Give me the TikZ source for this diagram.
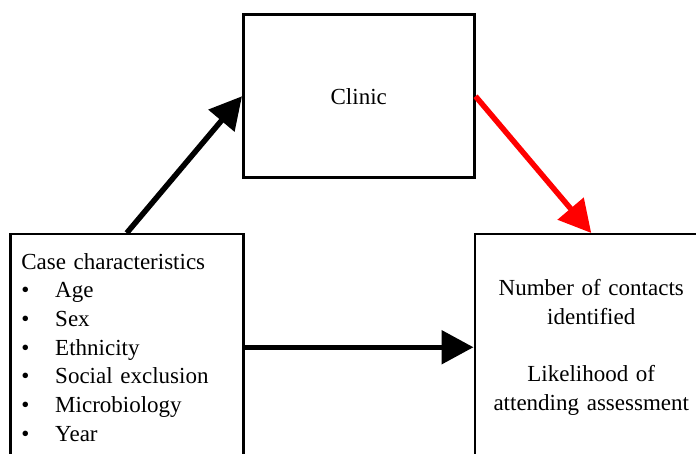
\documentclass[tikz,border=0pt]{standalone}
\usepackage{fontspec}
\setmainfont{Liberation Serif}
\usetikzlibrary{positioning,arrows.meta}

\newcommand{\itembullet}[1]{\makebox[34pt][l]{\textbullet}#1}

\begin{document}
\begin{tikzpicture}[
  x=1pt, y=1pt,
  node distance=10pt,
  box/.style={draw, line width=2.5pt, inner sep=0pt, minimum width=231pt, minimum height=163pt, font=\fontsize{23}{28.7}\selectfont},
  bigbox/.style={box, minimum width=233pt, minimum height=226pt, text width=211pt},
  arr/.style={-{Triangle[length=32pt, width=33pt]}, line width=5.5pt}
]
\useasboundingbox (0,0) rectangle (696,-454);
\clip (0,0) rectangle (696,-454);
\node[bigbox, align=left, anchor=north west] (cases) at (9,-233) {Case characteristics\\
  \itembullet{Age}\\
  \itembullet{Sex}\\
  \itembullet{Ethnicity}\\
  \itembullet{Social exclusion}\\
  \itembullet{Microbiology}\\
  \itembullet{Year}};
\node[bigbox, align=center, right=229pt of cases] (outcome) {Number of contacts\\ identified\\[28.7pt] Likelihood of\\ attending assessment};
\node[box, above right=54pt and -2.5pt of cases.north east] (clinic) {Clinic};

\draw[arr] (cases.north) -- (clinic.west);
\draw[arr, red] (clinic.east) -- (outcome.north);
\draw[arr] (cases) -- (outcome);
\end{tikzpicture}
\end{document}
